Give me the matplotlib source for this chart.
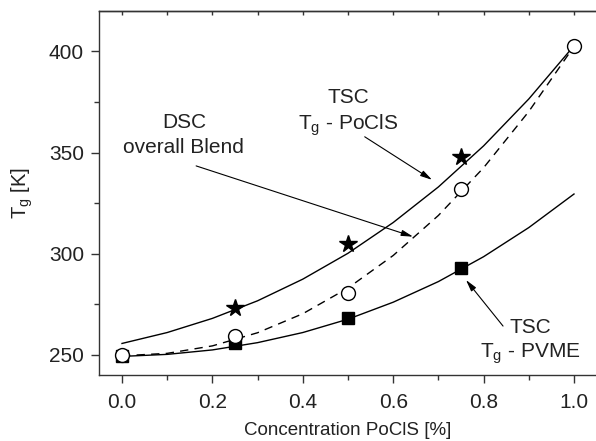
import numpy as np
import matplotlib.pyplot as plt
from matplotlib.ticker import MultipleLocator

plt.rcParams['font.family'] = ['Liberation Sans', 'DejaVu Sans']

# measured points
x_pts = [0.0, 0.25, 0.5, 0.75, 1.0]
tg_pocls = [273.0, 305.0, 348.0]               # stars (TSC, PoClS), x = 0.25..0.75
tg_dsc = [250.0, 259.3, 280.5, 332.2, 402.6]   # open circles (DSC)
tg_pvme = [249.3, 255.6, 268.0, 293.0]         # squares (TSC, PVME), x = 0..0.75

# fitted curves, every 0.1
x_fit = [0.0, 0.1, 0.2, 0.3, 0.4, 0.5, 0.6, 0.7, 0.8, 0.9, 1.0]
fit_pocls = [255.6, 261.0, 268.0, 276.7, 287.4, 300.2, 315.4, 333.0, 353.3, 376.5, 402.8]
fit_dsc = [249.5, 250.7, 254.4, 260.9, 270.3, 283.0, 299.1, 318.9, 342.5, 370.3, 402.5]
fit_pvme = [249.2, 250.2, 252.4, 256.0, 261.0, 267.6, 276.0, 286.2, 298.5, 312.9, 329.5]

FS_TICK = 15
FS_NOTE = 15
FS_LABEL = 13.5
INK = "#222222"

fig = plt.figure(figsize=(5.96, 4.41), dpi=100)
ax = fig.add_axes([99.4 / 596, 66 / 441, (596.6 - 99.4) / 596, (375 - 11) / 441])

ax.plot(x_fit, fit_pocls, color="black", lw=1.0)
ax.plot(x_fit, fit_dsc, color="black", lw=1.0, dashes=(6, 4.5))
ax.plot(x_fit, fit_pvme, color="black", lw=1.0)

ax.plot(x_pts[:4], tg_pvme, linestyle="none", marker="s", ms=8,
        mfc="black", mec="black", zorder=3)
ax.plot(x_pts, tg_dsc, linestyle="none", marker="o", ms=10,
        mfc="white", mec="black", mew=1.0, zorder=4)
ax.plot(x_pts[1:4], tg_pocls, linestyle="none", marker="*", ms=13,
        mfc="black", mec="black", zorder=4)

arrow = dict(arrowstyle="-|>,head_length=0.7,head_width=0.18", color="black",
             lw=0.8, shrinkA=0, shrinkB=0)

# DSC label
ax.text(0.137, 364.7, "DSC", ha="center", va="center", fontsize=FS_NOTE, color=INK)
ax.text(0.137, 352.3, "overall Blend", ha="center", va="center", fontsize=FS_NOTE, color=INK)
ax.annotate("", xy=(0.644, 308.4), xytext=(0.164, 343.4), arrowprops=arrow)

# TSC PoClS label
ax.text(0.5, 377.1, "TSC", ha="center", va="center", fontsize=FS_NOTE, color=INK)
ax.text(0.5, 363.7, r"T$_\mathregular{g}$ - PoClS", ha="center", va="center",
        fontsize=FS_NOTE, color=INK)
ax.annotate("", xy=(0.686, 336.5), xytext=(0.537, 357.8), arrowprops=arrow)

# TSC PVME label
ax.text(0.904, 263.7, "TSC", ha="center", va="center", fontsize=FS_NOTE, color=INK)
ax.text(0.904, 250.8, r"T$_\mathregular{g}$ - PVME", ha="center", va="center",
        fontsize=FS_NOTE, color=INK)
ax.annotate("", xy=(0.761, 287), xytext=(0.843, 264.2), arrowprops=arrow)

ax.set_xlim(-0.05, 1.05)
ax.set_ylim(240, 420)
ax.xaxis.set_major_locator(MultipleLocator(0.2))
ax.xaxis.set_minor_locator(MultipleLocator(0.1))
ax.yaxis.set_major_locator(MultipleLocator(50))
ax.yaxis.set_minor_locator(MultipleLocator(25))
ax.xaxis.set_major_formatter(plt.FormatStrFormatter("%.1f"))

ax.tick_params(which="both", direction="out", labelsize=FS_TICK, color="#333333",
               labelcolor=INK, top=False, right=False)
ax.tick_params(which="major", length=6, width=1.0)
ax.tick_params(which="minor", length=3.5, width=1.0)
ax.tick_params(axis="x", which="major", pad=7)
ax.tick_params(axis="y", which="major", pad=5)

# inward ticks on the top spine
top = ax.secondary_xaxis("top")
top.xaxis.set_major_locator(MultipleLocator(0.1))
top.tick_params(direction="in", length=3, width=1.0, labeltop=False, color="#333333")

for s in ["left", "bottom", "top"]:
    ax.spines[s].set_linewidth(1.0)
    ax.spines[s].set_color("#333333")
ax.spines["right"].set_visible(False)
top.spines["top"].set_linewidth(1.0)
top.spines["top"].set_color("#333333")

ax.set_xlabel("Concentration PoClS [%]", fontsize=FS_LABEL, labelpad=7, color=INK)
ax.set_ylabel(r"T$_\mathregular{g}$ [K]", fontsize=14.5, labelpad=10, color=INK)

fig.savefig("out.png", dpi=100)
